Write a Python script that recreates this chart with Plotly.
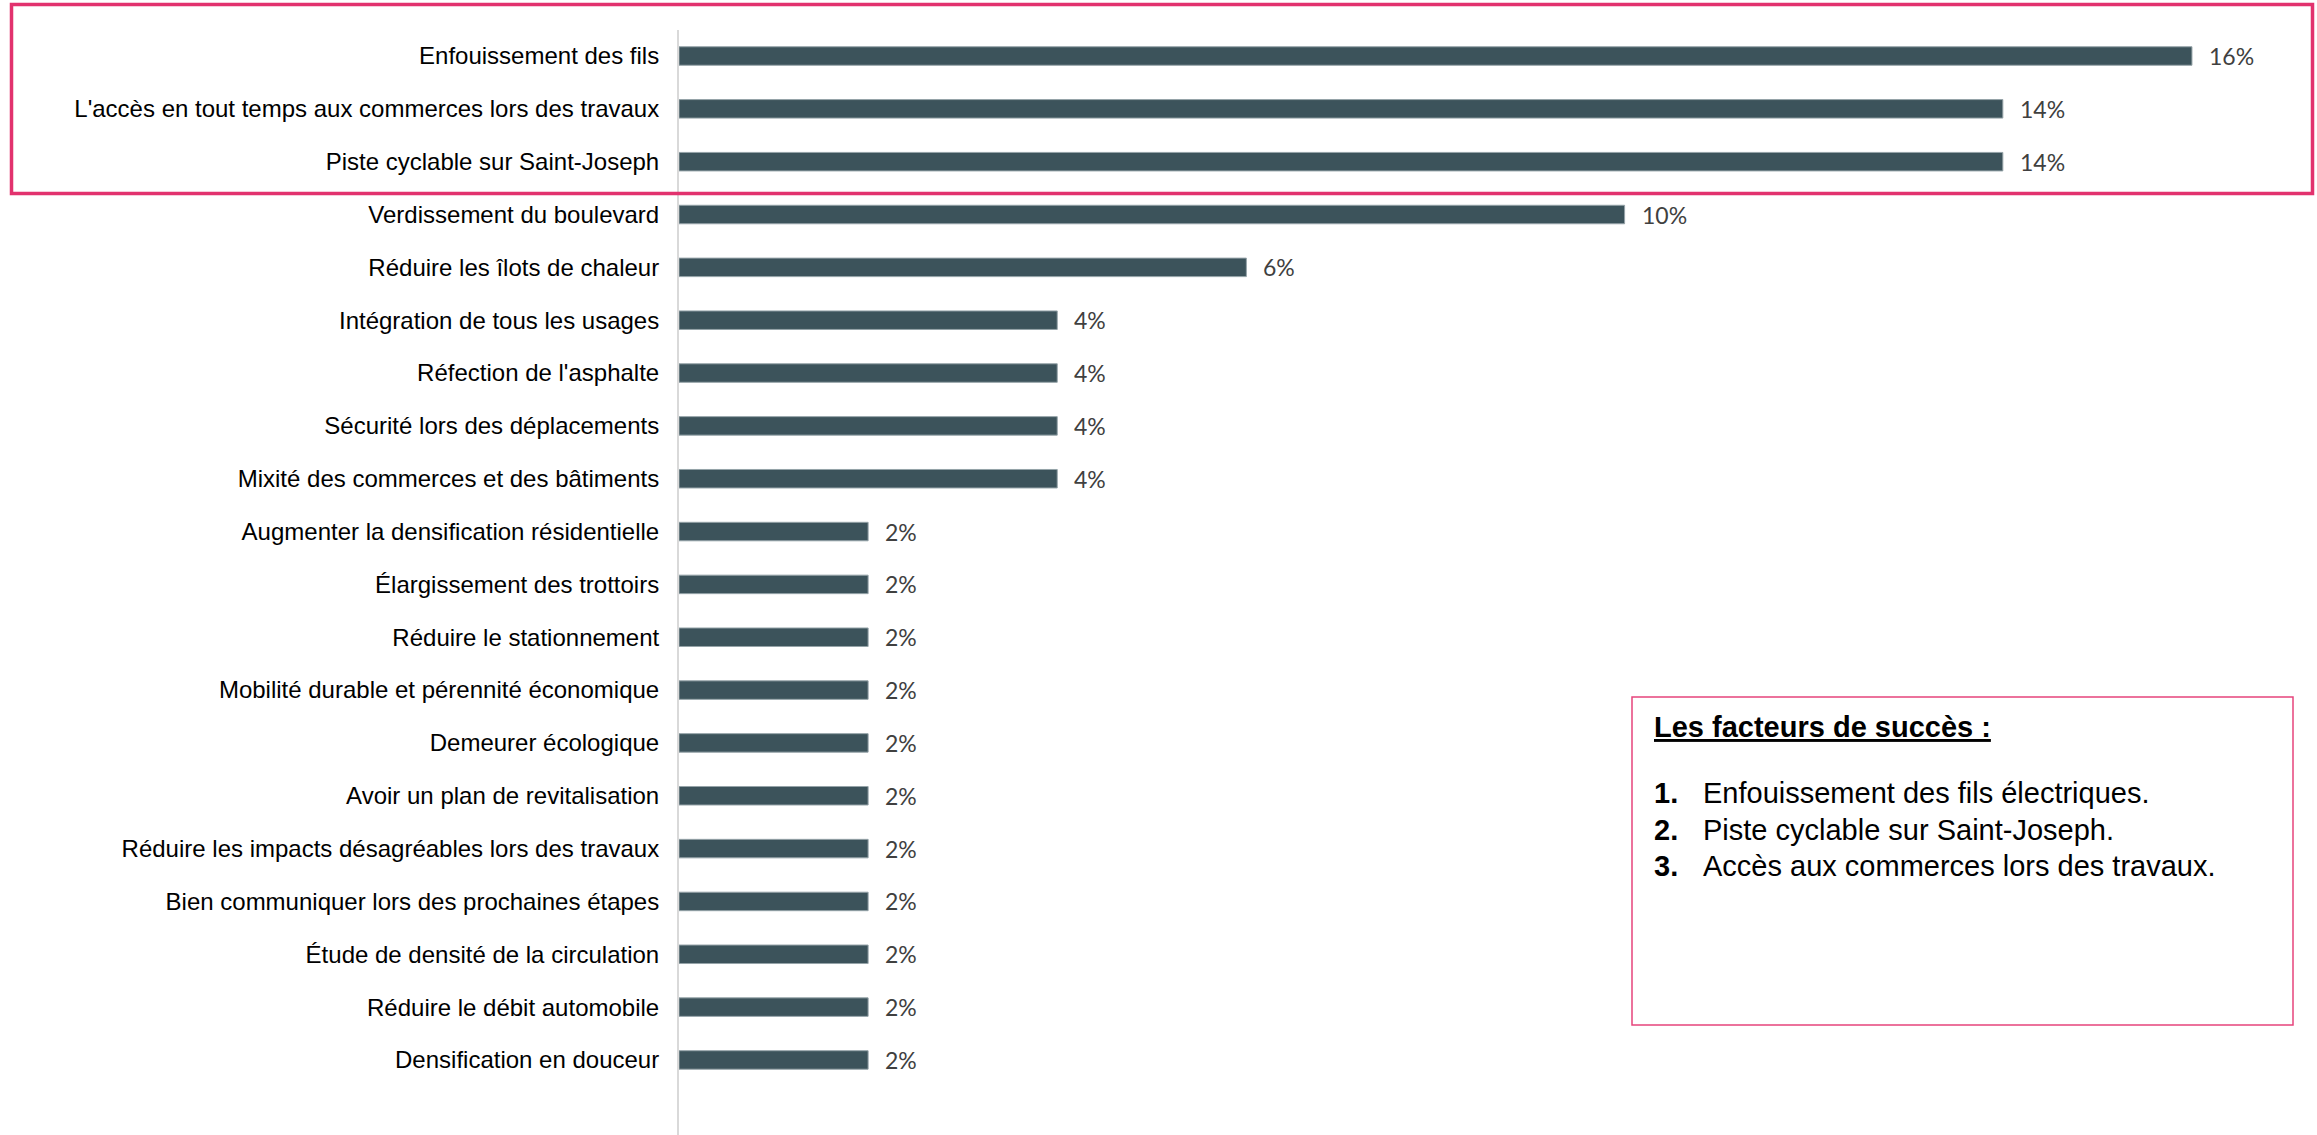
import plotly.graph_objects as go

categories = [
    "Enfouissement des fils",
    "L'accès en tout temps aux commerces lors des travaux",
    "Piste cyclable sur Saint-Joseph",
    "Verdissement du boulevard",
    "Réduire les îlots de chaleur",
    "Intégration de tous les usages",
    "Réfection de l'asphalte",
    "Sécurité lors des déplacements",
    "Mixité des commerces et des bâtiments",
    "Augmenter la densification résidentielle",
    "Élargissement des trottoirs",
    "Réduire le stationnement",
    "Mobilité durable et pérennité économique",
    "Demeurer écologique",
    "Avoir un plan de revitalisation",
    "Réduire les impacts désagréables lors des travaux",
    "Bien communiquer lors des prochaines étapes",
    "Étude de densité de la circulation",
    "Réduire le débit automobile",
    "Densification en douceur",
]
values = [16, 14, 14, 10, 6, 4, 4, 4, 4, 2, 2, 2, 2, 2, 2, 2, 2, 2, 2, 2]

box_title = "Les facteurs de succès :"
box_items = [
    "Enfouissement des fils électriques.",
    "Piste cyclable sur Saint-Joseph.",
    "Accès aux commerces lors des travaux.",
]

W, H = 2317, 1135
ML, MR, MT, MB = 679, 0, 30, 0
PW, PH = W - ML - MR, H - MT - MB
PX_PER_PCT = 94.56
ROW = 52.84
FIRST_CENTER = 56


def px(x):
    return (x - ML) / PW


def py(y):
    return 1 - (y - MT) / PH


fig = go.Figure()
fig.add_trace(go.Bar(
    x=values,
    y=categories,
    orientation="h",
    width=0.35,
    marker=dict(color="#3C535B", line=dict(color="#95A3A8", width=1)),
    hoverinfo="skip",
))

annotations = []
for c, v in zip(categories, values):
    annotations.append(dict(
        x=v, y=c, xref="x", yref="y", text=f"{v}%", showarrow=False,
        xanchor="left", yanchor="middle", xshift=15,
        font=dict(family="Lato", size=23, color="#404040"),
    ))

annotations.append(dict(
    x=px(1652), y=py(727), xref="paper", yref="paper",
    text=f"<b><u>{box_title}</u></b>", showarrow=False,
    xanchor="left", yanchor="middle",
    font=dict(family="Liberation Sans", size=29, color="#000000"),
))
item_y = [793, 830, 866]
for i, (t, yy) in enumerate(zip(box_items, item_y)):
    annotations.append(dict(
        x=px(1652), y=py(yy), xref="paper", yref="paper",
        text=f"<b>{i + 1}.</b>", showarrow=False,
        xanchor="left", yanchor="middle",
        font=dict(family="Liberation Sans", size=29, color="#000000"),
    ))
    annotations.append(dict(
        x=px(1701), y=py(yy), xref="paper", yref="paper",
        text=t, showarrow=False,
        xanchor="left", yanchor="middle",
        font=dict(family="Liberation Sans", size=29, color="#000000"),
    ))

shapes = [
    dict(type="rect", xref="paper", yref="paper",
         x0=px(11.5), x1=px(2312.5), y0=py(4.5), y1=py(193.5),
         line=dict(color="#E2326E", width=3.5), layer="above"),
    dict(type="rect", xref="paper", yref="paper",
         x0=px(1632), x1=px(2293), y0=py(697), y1=py(1025),
         line=dict(color="#E6447C", width=1.5), layer="above"),
]

top_rng = -(FIRST_CENTER - MT) / ROW
bot_rng = top_rng + PH / ROW

fig.update_layout(
    width=W, height=H,
    margin=dict(l=ML, r=MR, t=MT, b=MB, pad=0),
    paper_bgcolor="white", plot_bgcolor="white",
    showlegend=False,
    xaxis=dict(range=[0, PW / PX_PER_PCT], visible=False, fixedrange=True),
    yaxis=dict(
        type="category",
        categoryorder="array", categoryarray=categories,
        range=[bot_rng, top_rng],
        showline=True, linecolor="#D9D9D9", linewidth=2,
        showgrid=False, zeroline=False, ticks="",
        ticklabelstandoff=13,
        tickfont=dict(family="Liberation Sans", size=24, color="#000000"),
        fixedrange=True,
    ),
    annotations=annotations,
    shapes=shapes,
)

fig.write_html(
    "out.html",
    config={"displayModeBar": False},
    post_script="document.body.style.margin='0';document.body.style.overflow='hidden';",
)
